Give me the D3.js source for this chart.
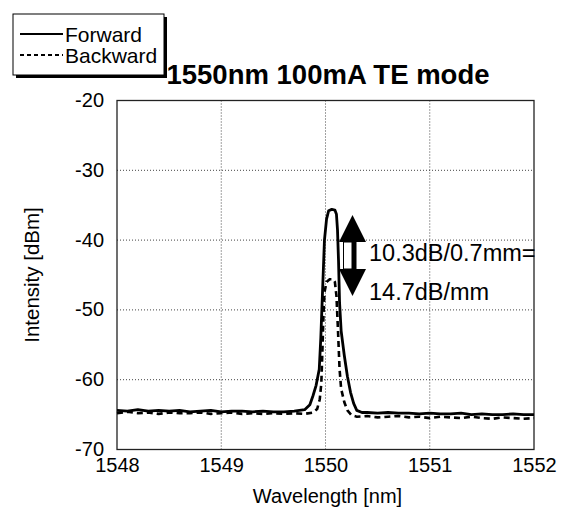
<!DOCTYPE html>
<html>
<head>
<meta charset="utf-8">
<script src="https://cdn.jsdelivr.net/npm/d3@7"></script>
<style>
  body { margin: 0; background: #fff; }
  text { font-family: "Liberation Sans", Arial, sans-serif; fill: #000; }
</style>
</head>
<body>
<script>
// Forward spectrum (solid)
var fwdWl = [1548.0,1548.1,1548.2,1548.3,1548.4,1548.5,1548.6,1548.7,1548.8,1548.9,1549.0,1549.1,1549.2,1549.3,1549.4,1549.5,1549.6,1549.7,
  1549.80,1549.85,1549.88,1549.91,1549.94,1549.955,1549.965,1549.98,1549.99,1550.01,1550.03,1550.06,1550.09,1550.105,1550.115,1550.125,1550.135,1550.15,1550.18,1550.21,1550.24,1550.27,1550.30,1550.35,
  1550.4,1550.5,1550.6,1550.7,1550.8,1550.9,1551.0,1551.1,1551.2,1551.3,1551.4,1551.5,1551.6,1551.7,1551.8,1551.9,1552.0];
var fwdDb = [-64.4,-64.5,-64.3,-64.5,-64.4,-64.5,-64.4,-64.6,-64.5,-64.4,-64.6,-64.5,-64.5,-64.6,-64.5,-64.6,-64.6,-64.5,
  -64.3,-63.6,-62.3,-60.8,-58.5,-54,-50,-44,-40,-37,-35.8,-35.6,-35.7,-36.3,-38.5,-43,-49,-53,-56.5,-59.5,-61.8,-63.4,-64.4,-64.7,
  -64.7,-64.8,-64.7,-64.8,-64.8,-64.9,-64.8,-64.9,-64.9,-64.8,-65.0,-64.9,-65.0,-65.0,-64.9,-65.0,-65.0];

// Backward spectrum (dashed)
var bwdWl = [1548.0,1548.1,1548.2,1548.3,1548.4,1548.5,1548.6,1548.7,1548.8,1548.9,1549.0,1549.1,1549.2,1549.3,1549.4,1549.5,1549.6,1549.7,1549.8,
  1549.88,1549.92,1549.945,1549.96,1549.97,1549.98,1549.99,1550.01,1550.04,1550.07,1550.09,1550.105,1550.12,1550.135,1550.15,1550.18,1550.21,1550.25,1550.3,
  1550.4,1550.5,1550.6,1550.7,1550.8,1550.9,1551.0,1551.1,1551.2,1551.3,1551.4,1551.5,1551.6,1551.7,1551.8,1551.9,1552.0];
var bwdDb = [-64.8,-64.6,-64.8,-64.7,-64.9,-64.7,-64.8,-64.8,-64.7,-64.9,-64.8,-64.7,-64.9,-64.8,-64.9,-64.8,-64.9,-64.8,-64.9,
  -64.7,-64.2,-62.8,-60.5,-56,-51,-47.5,-46,-45.6,-45.6,-46,-48,-53,-58.5,-61.3,-63.2,-64.4,-65.1,-65.3,
  -65.2,-65.4,-65.3,-65.2,-65.4,-65.3,-65.5,-65.3,-65.4,-65.5,-65.3,-65.5,-65.6,-65.4,-65.5,-65.6,-65.5];

var xTicks = [1548, 1549, 1550, 1551, 1552];
var yTicks = [-70, -60, -50, -40, -30, -20];
var seriesNames = ["Forward", "Backward"];
var annotLines = ["10.3dB/0.7mm=", "14.7dB/mm"];

const w = 563, h = 508;
const mLeft = 117, mRight = 534, mTop = 100.5, mBottom = 449.5;

const svg = d3.select("body").append("svg")
  .attr("width", w).attr("height", h);

const xScale = d3.scaleLinear().domain([1548, 1552]).range([mLeft, mRight]);
const yScale = d3.scaleLinear().domain([-70, -20]).range([mBottom, mTop]);

// grid lines (dotted)
svg.selectAll("line.vgrid")
  .data(xTicks.slice(1, -1))
  .enter().append("line")
  .attr("x1", d => xScale(d)).attr("x2", d => xScale(d))
  .attr("y1", mTop).attr("y2", mBottom)
  .attr("stroke", "#444").attr("stroke-width", 1).attr("stroke-dasharray", "1,2");
svg.selectAll("line.hgrid")
  .data(yTicks.slice(1, -1))
  .enter().append("line")
  .attr("x1", mLeft).attr("x2", mRight)
  .attr("y1", d => yScale(d)).attr("y2", d => yScale(d))
  .attr("stroke", "#444").attr("stroke-width", 1).attr("stroke-dasharray", "1,2");

// axes
const xAxis = d3.axisBottom(xScale).tickValues(xTicks).tickSize(0).tickFormat(d => String(d));
const yAxis = d3.axisLeft(yScale).tickValues(yTicks).tickSize(0).tickFormat(d => String(d));

const gx = svg.append("g").attr("transform", "translate(0," + mBottom + ")").call(xAxis);
gx.select(".domain").remove();
gx.selectAll("text").attr("y", 22.5).attr("dy", 0)
  .style("font-size", "20px").style("font-family", "Liberation Sans, Arial, sans-serif");

const gy = svg.append("g").attr("transform", "translate(" + mLeft + ",0)").call(yAxis);
gy.select(".domain").remove();
gy.selectAll("text").attr("x", -13).attr("dy", "0.3em")
  .style("font-size", "20px").style("font-family", "Liberation Sans, Arial, sans-serif");

// frame
svg.append("rect")
  .attr("x", mLeft).attr("y", mTop)
  .attr("width", mRight - mLeft).attr("height", mBottom - mTop)
  .attr("fill", "none").attr("stroke", "#222").attr("stroke-width", 1.3);

// lines
const line = d3.line().x(d => xScale(d[0])).y(d => yScale(d[1]));
const fwd = fwdWl.map((v, i) => [v, fwdDb[i]]);
const bwd = bwdWl.map((v, i) => [v, bwdDb[i]]);

svg.append("path").datum(bwd)
  .attr("d", line).attr("fill", "none")
  .attr("stroke", "#000").attr("stroke-width", 2.6).attr("stroke-dasharray", "6,4");
svg.append("path").datum(fwd)
  .attr("d", line).attr("fill", "none")
  .attr("stroke", "#000").attr("stroke-width", 2.8).attr("stroke-linejoin", "round");

// double arrow
const ax = 352.5;
svg.append("path")
  .attr("d", "M" + ax + ",215 L" + (ax + 13.5) + ",242 L" + (ax - 13.5) + ",242 Z")
  .attr("fill", "#000");
svg.append("path")
  .attr("d", "M" + ax + ",296 L" + (ax + 13.5) + ",269 L" + (ax - 13.5) + ",269 Z")
  .attr("fill", "#000");
svg.append("rect").attr("x", ax - 9).attr("y", 242).attr("width", 12.5).attr("height", 27)
  .attr("fill", "#fff").attr("stroke", "#000").attr("stroke-width", 1);
svg.append("rect").attr("x", ax - 1).attr("y", 242).attr("width", 4.5).attr("height", 27)
  .attr("fill", "#000");

svg.selectAll("text.annot")
  .data(annotLines)
  .enter().append("text")
  .attr("x", 369).attr("y", (d, i) => i == 0 ? 261 : 300)
  .style("font-size", "23.5px")
  .text(d => d);

// title
svg.append("text")
  .attr("x", 328).attr("y", 84)
  .attr("text-anchor", "middle")
  .style("font-size", "27.5px").style("font-weight", "bold")
  .text("1550nm 100mA TE mode");

// axis labels
svg.append("text")
  .attr("x", (mLeft + mRight) / 2 + 2).attr("y", 503)
  .attr("text-anchor", "middle")
  .style("font-size", "20px")
  .text("Wavelength [nm]");
svg.append("text")
  .attr("transform", "translate(39," + ((mTop + mBottom) / 2) + ") rotate(-90)")
  .attr("text-anchor", "middle")
  .style("font-size", "20.5px")
  .text("Intensity [dBm]");

// legend
svg.append("rect").attr("x", 16).attr("y", 17).attr("width", 151).attr("height", 61).attr("fill", "#000");
svg.append("rect").attr("x", 13).attr("y", 14).attr("width", 151).attr("height", 61)
  .attr("fill", "#fff").attr("stroke", "#000").attr("stroke-width", 1);
seriesNames.forEach(function(name, i) {
  var yy = 34 + i * 21;
  svg.append("line")
    .attr("x1", 20).attr("x2", 63).attr("y1", yy).attr("y2", yy)
    .attr("stroke", "#000").attr("stroke-width", 1.8)
    .attr("stroke-dasharray", i == 0 ? null : "4,3");
  svg.append("text")
    .attr("x", 65).attr("y", yy + 7.5)
    .style("font-size", "21px")
    .text(name);
});
</script>
</body>
</html>
